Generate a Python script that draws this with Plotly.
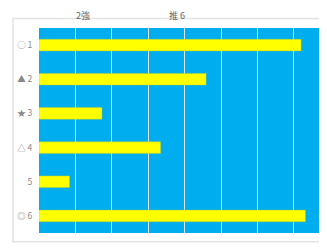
import plotly.graph_objects as go

categories = ["○ 1", "▲ 2", "★ 3", "△ 4", "5", "◎ 6"]
values = [7.2, 4.59, 1.73, 3.34, 0.84, 7.32]
top_labels = ["2強", "推 6"]
top_label_x = [1.22, 3.8]

# page is offset by the 8px body margin
OFF = 8
W, H = 327, 248
ml, mr, mt = 39 - OFF, 0, 28 - OFF
mb = H - (232.7 - OFF)
pw, ph = W - ml - mr, H - mt - mb

def px_x(p):
    return (p - OFF - ml) / pw

def px_y(p):
    return (H - mb - (p - OFF)) / ph

fig = go.Figure()
fig.add_trace(go.Bar(
    y=categories, x=values, orientation="h",
    width=0.34,
    marker=dict(color="#FFFF00", line=dict(color="rgba(170,200,60,0.7)", width=0.6)),
    hoverinfo="skip",
))

fig.update_layout(
    width=W, height=H,
    autosize=False,
    margin=dict(l=ml, r=mr, t=mt, b=mb, pad=0, autoexpand=False),
    paper_bgcolor="white",
    plot_bgcolor="#00AEEF",
    showlegend=False,
    font=dict(family="Noto Sans CJK JP, DejaVu Sans, sans-serif", size=9, color="#777777"),
    xaxis=dict(range=[0, pw / 36.4], dtick=1, tick0=0, showticklabels=False,
               showgrid=True, gridcolor="#dfe3e6", gridwidth=1, zeroline=False,
               showline=False, ticks="", automargin=False),
    yaxis=dict(autorange="reversed", showgrid=False, zeroline=False, showline=False,
               ticks="outside", ticklen=4, tickcolor="rgba(0,0,0,0)", automargin=False,
               tickfont=dict(size=8.5, color="#888888")),
    shapes=[dict(type="rect", xref="paper", yref="paper",
                 x0=px_x(13), x1=px_x(345), y0=px_y(241.5), y1=px_y(18.5),
                 line=dict(color="#e3e3e3", width=1.5), fillcolor="rgba(0,0,0,0)",
                 layer="below")],
)

for t, xv in zip(top_labels, top_label_x):
    fig.add_annotation(x=xv, xref="x", y=px_y(8.2), yref="paper", text=t,
                       yanchor="top", xanchor="center", borderpad=0,
                       showarrow=False, font=dict(size=9, color="#666666"))

fig.write_html("out.html")
